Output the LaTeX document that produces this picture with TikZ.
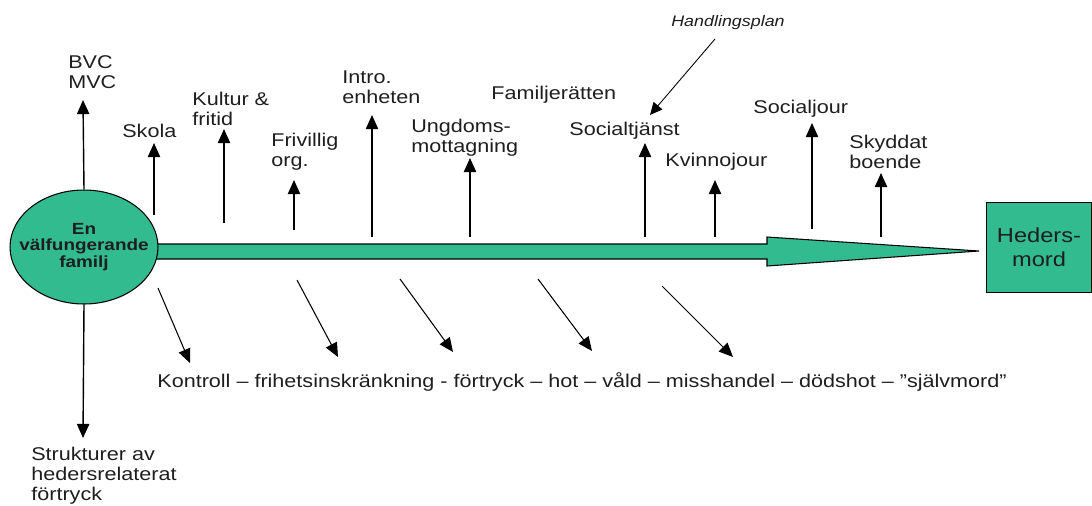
\documentclass[tikz,border=0pt]{standalone}
\usepackage{fontspec}
\setmainfont{Liberation Sans}[FakeStretch=1.17]
\usetikzlibrary{arrows.meta,shapes.geometric}
\definecolor{hgreen}{RGB}{50,187,142}
\definecolor{txt}{RGB}{30,30,30}
\tikzset{
  lbl/.style={anchor=west,inner sep=0pt,align=left,text=txt,
    font=\fontsize{10.5}{11.3}\selectfont},
  uparr/.style={line width=0.8pt,-{Triangle[width=7pt,length=8pt]}},
  diagarr/.style={line width=0.6pt,-{Triangle[width=7pt,length=8pt]}},
  thinarr/.style={line width=0.5pt,-{Triangle[width=6.5pt,length=7pt]}},
}
\begin{document}
\begin{tikzpicture}[x=0.02cm,y=-0.02cm]
\useasboundingbox (0,0) rectangle (1092,505);
% main arrow
\draw[fill=hgreen,line width=0.6pt] (140,244) -- (767,244) -- (767,237) -- (979,251) -- (767,266) -- (767,259) -- (140,259) -- cycle;
% family ellipse
\node[ellipse,draw,line width=0.6pt,fill=hgreen,minimum width=2.96cm,minimum height=2.28cm,inner sep=0pt] (fam) at (84,247) {};
\node[align=center,inner sep=0pt,text=txt,font=\bfseries\fontsize{9.2}{9.6}\selectfont] (famtxt) at (84,247) {En\\välfungerande\\familj};
% Hedersmord box
\node[draw,line width=0.6pt,fill=hgreen,minimum width=2.1cm,minimum height=1.8cm,inner sep=0pt,anchor=north west,
  align=center,text=txt,font=\fontsize{11.5}{13.6}\selectfont] (hm) at (986,202) {Heders-\\mord};
% labels
\node[lbl] (bvc) at (68,72.5) {BVC\\MVC};
\node[lbl] (skola) at (122,131) {Skola};
\node[lbl] (kultur) at (192,108.5) {Kultur \&\\fritid};
\node[lbl] (friv) at (271,152) {Frivillig\\org.};
\node[lbl] (intro) at (342,87) {Intro.\\enheten};
\node[lbl] (ungd) at (411,137.5) {Ungdoms-\\mottagning};
\node[lbl] (famr) at (491,95) {Familjerätten};
\node[lbl] (soct) at (569,131) {Socialtjänst};
\node[lbl] (kvinn) at (665,162) {Kvinnojour};
\node[lbl] (socj) at (753,109) {Socialjour};
\node[lbl] (skydd) at (849,152) {Skyddat\\boende};
\node[anchor=center,inner sep=0pt,text=txt,font=\itshape\fontsize{8.7}{10}\selectfont] (handl) at (728,23) {Handlingsplan};
\node[lbl] (strukt) at (31,476) {Strukturer av\\hedersrelaterat\\förtryck};
\node[lbl] (kontroll) at (157,382) {Kontroll – frihetsinskränkning - förtryck – hot – våld – misshandel – dödshot – ”självmord”};
% arrow coordinates
\coordinate (bvcT) at (83,100);
\coordinate (skB) at (154,215); \coordinate (skT) at (154,143);
\coordinate (kuB) at (224,223); \coordinate (kuT) at (224,129);
\coordinate (frB) at (294,230); \coordinate (frT) at (294,180);
\coordinate (inB) at (372,237); \coordinate (inT) at (372,115);
\coordinate (unB) at (470,237); \coordinate (unT) at (470,158);
\coordinate (soB) at (645,237); \coordinate (soT) at (645,143);
\coordinate (kvB) at (715,237); \coordinate (kvT) at (715,180);
\coordinate (sjB) at (812,229); \coordinate (sjT) at (812,123);
\coordinate (syB) at (881,237); \coordinate (syT) at (881,173);
\coordinate (stT) at (83,438);
\coordinate (haS) at (715,39); \coordinate (haT) at (650,115);
\coordinate (d1S) at (158,288); \coordinate (d1T) at (190,363);
\coordinate (d2S) at (297,280); \coordinate (d2T) at (338,357);
\coordinate (d3S) at (400,279); \coordinate (d3T) at (453,352);
\coordinate (d4S) at (538,279); \coordinate (d4T) at (592,351);
\coordinate (d5S) at (662,286); \coordinate (d5T) at (733,357);
% arrows up
\draw[uparr] (fam.north) -- (bvcT);
\draw[uparr] (skB) -- (skT);
\draw[uparr] (kuB) -- (kuT);
\draw[uparr] (frB) -- (frT);
\draw[uparr] (inB) -- (inT);
\draw[uparr] (unB) -- (unT);
\draw[uparr] (soB) -- (soT);
\draw[uparr] (kvB) -- (kvT);
\draw[uparr] (sjB) -- (sjT);
\draw[uparr] (syB) -- (syT);
\draw[uparr] (fam.south) -- (stT);
\draw[thinarr] (haS) -- (haT);
% diagonal arrows
\draw[diagarr] (d1S) -- (d1T);
\draw[diagarr] (d2S) -- (d2T);
\draw[diagarr] (d3S) -- (d3T);
\draw[diagarr] (d4S) -- (d4T);
\draw[diagarr] (d5S) -- (d5T);
\end{tikzpicture}
\end{document}
